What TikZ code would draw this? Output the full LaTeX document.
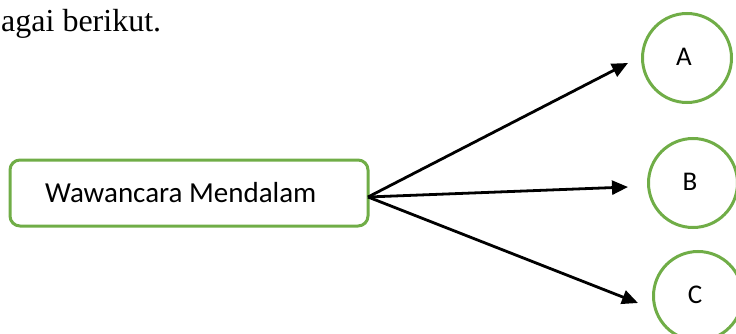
\documentclass[tikz,border=0pt]{standalone}
\usepackage{fontspec}
\setmainfont{Liberation Serif}
\newfontfamily\calibri{Carlito}
\usetikzlibrary{arrows.meta}
\definecolor{offgreen}{HTML}{70AD47}
\begin{document}
\begin{tikzpicture}[x=1pt,y=-1pt,
  gbox/.style={draw=offgreen,line width=3pt,rounded corners=10pt},
  gcirc/.style={draw=offgreen,line width=3pt,circle,minimum size=89pt,inner sep=0pt},
  lbl/.style={font=\calibri\fontsize{27}{30}\selectfont,inner sep=0pt},
  arr/.style={line width=2.8pt,-{Triangle[length=16pt,width=14pt]}}]
\useasboundingbox (0,0) rectangle (736,334);
\node[anchor=base west,inner sep=0pt,font=\fontsize{32}{34}\selectfont] (intro) at (1,32) {agai berikut.};
\draw[gbox] (10,160) rectangle (368,226);
\node[anchor=base west,inner sep=0pt,font=\calibri\fontsize{29}{32}\selectfont] (box) at (45,202) {Wawancara Mendalam};
\node[gcirc] (A) at (687,58) {};
\node[gcirc] (B) at (693,183) {};
\node[gcirc] (C) at (698,296) {};
\node[lbl] (la) at (684,57) {A};
\node[lbl] (lb) at (690,182) {B};
\node[lbl] (lc) at (695,295) {C};
\coordinate (s) at (368,197);
\coordinate (ta) at (628,63);
\coordinate (tb) at (628,187);
\coordinate (tc) at (638,303);
\draw[arr] (s) -- (ta);
\draw[arr] (s) -- (tb);
\draw[arr] (s) -- (tc);
\end{tikzpicture}
\end{document}
